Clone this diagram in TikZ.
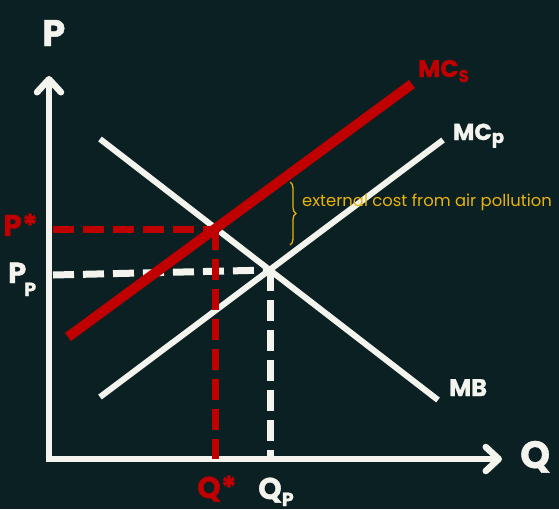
\documentclass[tikz,border=0pt]{standalone}
\usepackage{fontspec}
\setmainfont{Poppins}
\usetikzlibrary{arrows.meta,decorations.pathreplacing}
\definecolor{bgc}{RGB}{11,32,35}
\definecolor{wht}{RGB}{244,244,238}
\definecolor{redc}{RGB}{192,0,0}
\definecolor{yel}{RGB}{232,178,12}
\newcommand\fsz[1]{\fontsize{#1}{#1}\selectfont}
\newcommand\heavy{\bfseries\addfontfeatures{FakeBold=1.2}}
\tikzset{
  lbl/.style={inner sep=0pt, anchor=base west, text=wht},
  axisline/.style={wht, line width=6.5pt, line join=miter,
    arrows={Straight Barb[length=13pt, width=24pt, line cap=round, line join=round]-Straight Barb[length=13pt, width=24pt, line cap=round, line join=round]}},
  curve/.style={wht, line width=6pt},
  redcurve/.style={redc, line width=10pt},
  dashln/.style={line width=7pt, dash pattern=on 21pt off 9pt},
}
\begin{document}
\begin{tikzpicture}[x=1pt,y=-1pt]
\fill[bgc] (0,0) rectangle (559,509);
\useasboundingbox (0,0) rectangle (559,509);
% key points
\coordinate (ytip) at (49,76);
\coordinate (O) at (49,459);
\coordinate (xtip) at (502,459);
\coordinate (mb1) at (100,139);
\coordinate (mb2) at (438,400);
\coordinate (mp1) at (100,397);
\coordinate (mp2) at (443,140);
\coordinate (ms1) at (68,337);
\coordinate (ms2) at (412,84);
\coordinate (Estar) at (215,229);
\coordinate (Ep) at (270,270);
\coordinate (pstarL) at (53,229);
\coordinate (ppL) at (53,275);
\coordinate (qstarB) at (215,459);
\coordinate (qpB) at (270,459);
\coordinate (br1) at (290,182);
\coordinate (br2) at (290,245);
% axes
\draw[axisline] (ytip) -- (O) -- (xtip);
% curves
\draw[curve] (mb1) -- (mb2);
\draw[curve] (mp1) -- (mp2);
% white dashed
\draw[wht, dashln] (ppL) -- (Ep);
\draw[wht, dashln] (Ep) -- (qpB);
% red dashed
\draw[redc, dashln] (pstarL) -- (Estar);
\draw[redc, dashln] (Estar) -- (qstarB);
\draw[redcurve] (ms1) -- (ms2);
% brace
\draw[yel, line width=1.3pt, decorate, decoration={brace, amplitude=6pt}] (br1) -- (br2);
\node[inner sep=0pt, anchor=base west, text=yel, font=\fsz{16.4}] (ext) at (302,206) {external cost from air pollution};
% labels
\node[lbl, font=\heavy\fsz{37}] (plab) at (42,46) {P};
\node[lbl, font=\heavy\fsz{38}] (qlab) at (520,468) {Q};
\node[lbl, text=redc, font=\heavy\fsz{30}] (pstar) at (3,236) {P*};
\node[lbl, font=\heavy\fsz{29}] (pp) at (8,283) {P\kern-2pt\raisebox{-13pt}{\fsz{19}P}};
\node[lbl, text=redc, font=\heavy\fsz{30}] (qstar) at (197,498) {Q*};
\node[lbl, font=\heavy\fsz{30}] (qp) at (258,499) {Q\raisebox{-7pt}{\fsz{19}P}};
\node[lbl, text=redc, font=\heavy\fsz{24}] (mcs) at (418,77) {MC\raisebox{-5pt}{\fsz{17}S}};
\node[lbl, font=\heavy\fsz{23}] (mcp) at (453,140) {MC\raisebox{-3pt}{\fsz{18}p}};
\node[lbl, font=\heavy\fsz{24}] (mb) at (449,396) {MB};
\end{tikzpicture}
\end{document}
